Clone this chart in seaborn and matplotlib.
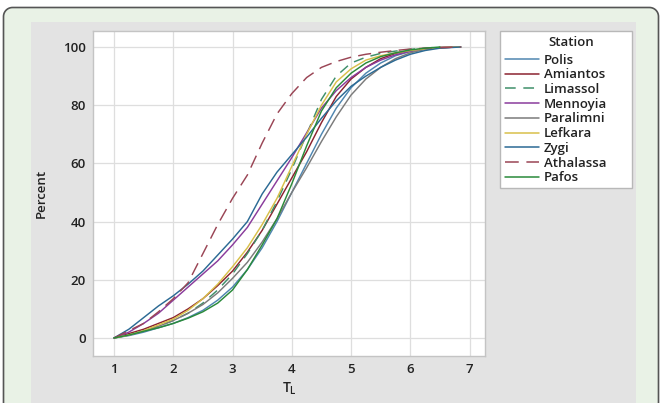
import numpy as np
import pandas as pd
import matplotlib
matplotlib.use("Agg")
import matplotlib.pyplot as plt
import matplotlib.transforms as mtransforms
from matplotlib.patches import Rectangle, Polygon
from matplotlib.lines import Line2D
import seaborn as sns

# ---------------- data ----------------
t_values = [1.0, 1.25, 1.5, 1.75, 2.0, 2.25, 2.5, 2.75, 3.0, 3.25, 3.5, 3.75,
            4.0, 4.25, 4.5, 4.75, 5.0, 5.25, 5.5, 5.75, 6.0, 6.25, 6.5, 6.85]
nan = np.nan
polis = [0, 0.8, 2, 3.5, 5, 7, 9.5, 13, 17.5, 23.5, 31, 40,
         50, 60, 70, 79, 86, 91, 94.5, 97, 98.5, 99.3, 99.8, 100]
amiantos = [0, 1.5, 3, 5, 7, 10, 13.5, 18, 23, 29.5, 37, 46,
            55, 64, 74, 83, 89, 93, 96, 97.8, 98.8, 99.4, 99.8, 100]
limassol = [0, 1, 2.5, 4, 6, 8.5, 12, 16.5, 22, 29, 37, 47,
            58, 70, 82, 90, 94.5, 96.5, 97.8, 98.6, 99.2, 99.6, 100, nan]
mennoyia = [0, 2, 5, 8.5, 13, 17.5, 22, 26.5, 32, 38, 46, 54,
            62, 70.5, 79, 85, 89.5, 93, 95.5, 97.3, 98.5, 99.3, 99.8, 100]
paralimni = [0, 1, 2.5, 4, 6, 8.5, 11.5, 15.5, 20.5, 26, 33, 41,
             50, 58.5, 67.5, 76, 83.5, 89, 93, 96, 98, 99.2, 99.8, 100]
lefkara = [0, 1, 2.5, 4.5, 6.5, 9.5, 13.5, 18.5, 24.5, 31, 39, 48,
           59, 70, 80, 88, 92.5, 95.5, 97, 98, 98.8, 99.4, 99.8, 100]
zygi = [0, 3, 7, 11, 14.5, 18.5, 23, 28.5, 34, 40, 49.5, 57,
        63, 69, 75.5, 81.5, 86.5, 90, 93, 95.5, 97.5, 98.8, 99.6, 100]
athalassa = [0, 2.5, 5, 9, 13.5, 19, 29, 39, 48, 56, 67, 77,
             84, 89.5, 93, 95, 96.5, 97.5, 98.2, 98.8, 99.3, 99.6, 99.8, 100]
pafos = [0, 1, 2.3, 3.5, 5, 6.8, 9, 12, 16.5, 23.5, 32, 41,
         53, 66, 78, 86, 91, 94.5, 96.7, 98, 99, 99.6, 100, nan]

stations = ["Polis", "Amiantos", "Limassol", "Mennoyia", "Paralimni",
            "Lefkara", "Zygi", "Athalassa", "Pafos"]
series = [polis, amiantos, limassol, mennoyia, paralimni,
          lefkara, zygi, athalassa, pafos]
x_ticks = [1, 2, 3, 4, 5, 6, 7]
y_ticks = [0, 20, 40, 60, 80, 100]

colors = {"Polis": "#4f86b0", "Amiantos": "#8b2330", "Limassol": "#3f8f6a",
          "Mennoyia": "#8a3c9c", "Paralimni": "#7b7b7b", "Lefkara": "#d8c04a",
          "Zygi": "#2b6a94", "Athalassa": "#9a4555", "Pafos": "#2a8a3a"}
dashes = {s: "" for s in stations}
dashes["Limassol"] = (7, 5)
dashes["Athalassa"] = (9, 5)

rows = []
for s, vals in zip(stations, series):
    for t, v in zip(t_values, vals):
        rows.append({"TL": t, "Percent": v, "Station": s})
df = pd.DataFrame(rows)

# ---------------- figure ----------------
sns.set_style("white")
plt.rcParams["font.family"] = ["Open Sans", "DejaVu Sans"]

W, H = 661, 403
fig = plt.figure(figsize=(W / 100, H / 100), dpi=100, facecolor="white")

def fx(px):
    return px / W

def fy(py):
    return 1 - py / H

# pixel (from top-left) -> figure transform for decoration
pix = mtransforms.Affine2D().scale(1 / W, -1 / H).translate(0, 1) + fig.transFigure

# outer rounded frame: open outline (left, top, right) + fill
r = 9
x0, x1, y0, yb = 3.5, 658.5, 7.5, 420
ang1 = np.linspace(np.pi, 1.5 * np.pi, 12)
ang2 = np.linspace(1.5 * np.pi, 2 * np.pi, 12)
xs = [x0] + list(x0 + r + r * np.cos(ang1)) + list(x1 - r + r * np.cos(ang2)) + [x1]
ys = [yb] + list(y0 + r + r * np.sin(ang1)) + list(y0 + r + r * np.sin(ang2)) + [yb]
fig.patches.append(Polygon(np.column_stack([xs, ys]), closed=True, transform=pix,
                           facecolor="#e9f2e6", edgecolor="none", zorder=-3))
fig.lines.append(Line2D(xs, ys, transform=pix, color="#555555", linewidth=1.2,
                        zorder=-2.5))
# grey panel
fig.patches.append(Rectangle((31, 22), 636 - 31, 420, transform=pix,
                             facecolor="#e3e3e3", edgecolor="none", zorder=-2))
# legend box
fig.patches.append(Rectangle((500, 31), 132, 188 - 31, transform=pix,
                             facecolor="white", edgecolor="#b8b8b8",
                             linewidth=1.0, zorder=-1))

ax = fig.add_axes([fx(93), fy(356), fx(485 - 93), (356 - 31) / H])
ax.set_facecolor("white")

sns.lineplot(data=df, x="TL", y="Percent", hue="Station", style="Station",
             hue_order=stations, style_order=stations, palette=colors,
             dashes=dashes, estimator=None, sort=False, linewidth=1.05,
             legend=False, ax=ax)

ax.set_xlim(0.645, 7.26)
ax.set_ylim(-6.2, 105.5)
ax.set_xticks(x_ticks)
ax.set_yticks(y_ticks)
ax.set_xticklabels([str(v) for v in x_ticks])
ax.set_yticklabels([str(v) for v in y_ticks])
ax.grid(True, color="#dedede", linewidth=0.9)
ax.set_axisbelow(True)
for sp in ax.spines.values():
    sp.set_color("#c4c4c4")
    sp.set_linewidth(1.0)
ax.tick_params(axis="both", direction="out", length=3, width=0.8, color="#9a9a9a",
               labelsize=9.5, labelcolor="#222222", pad=2)
for lab in ax.get_xticklabels() + ax.get_yticklabels():
    lab.set_fontweight("semibold")
ax.set_xlabel(r"T$_\mathregular{L}$", fontsize=10, fontweight="semibold",
              color="#222222", labelpad=3)
ax.set_ylabel("Percent", fontsize=9.5, fontweight="semibold", color="#222222",
              labelpad=11)

handles = []
for s in stations:
    h = Line2D([0], [0], color=colors[s], linewidth=1.1)
    if dashes[s]:
        h.set_dashes(dashes[s])
    handles.append(h)
leg = fig.legend(handles, stations, loc="upper left",
                 bbox_to_anchor=(fx(498), fy(47)), frameon=False,
                 borderpad=0, handlelength=2.6, handletextpad=0.35,
                 labelspacing=0.13, prop={"size": 9.5, "weight": "semibold"})
for txt in leg.get_texts():
    txt.set_color("#222222")
fig.text(fx(548), fy(43), "Station", ha="left", va="center", fontsize=9.5,
         fontweight="semibold", color="#222222")

fig.savefig("out.png", dpi=100, facecolor=fig.get_facecolor())
